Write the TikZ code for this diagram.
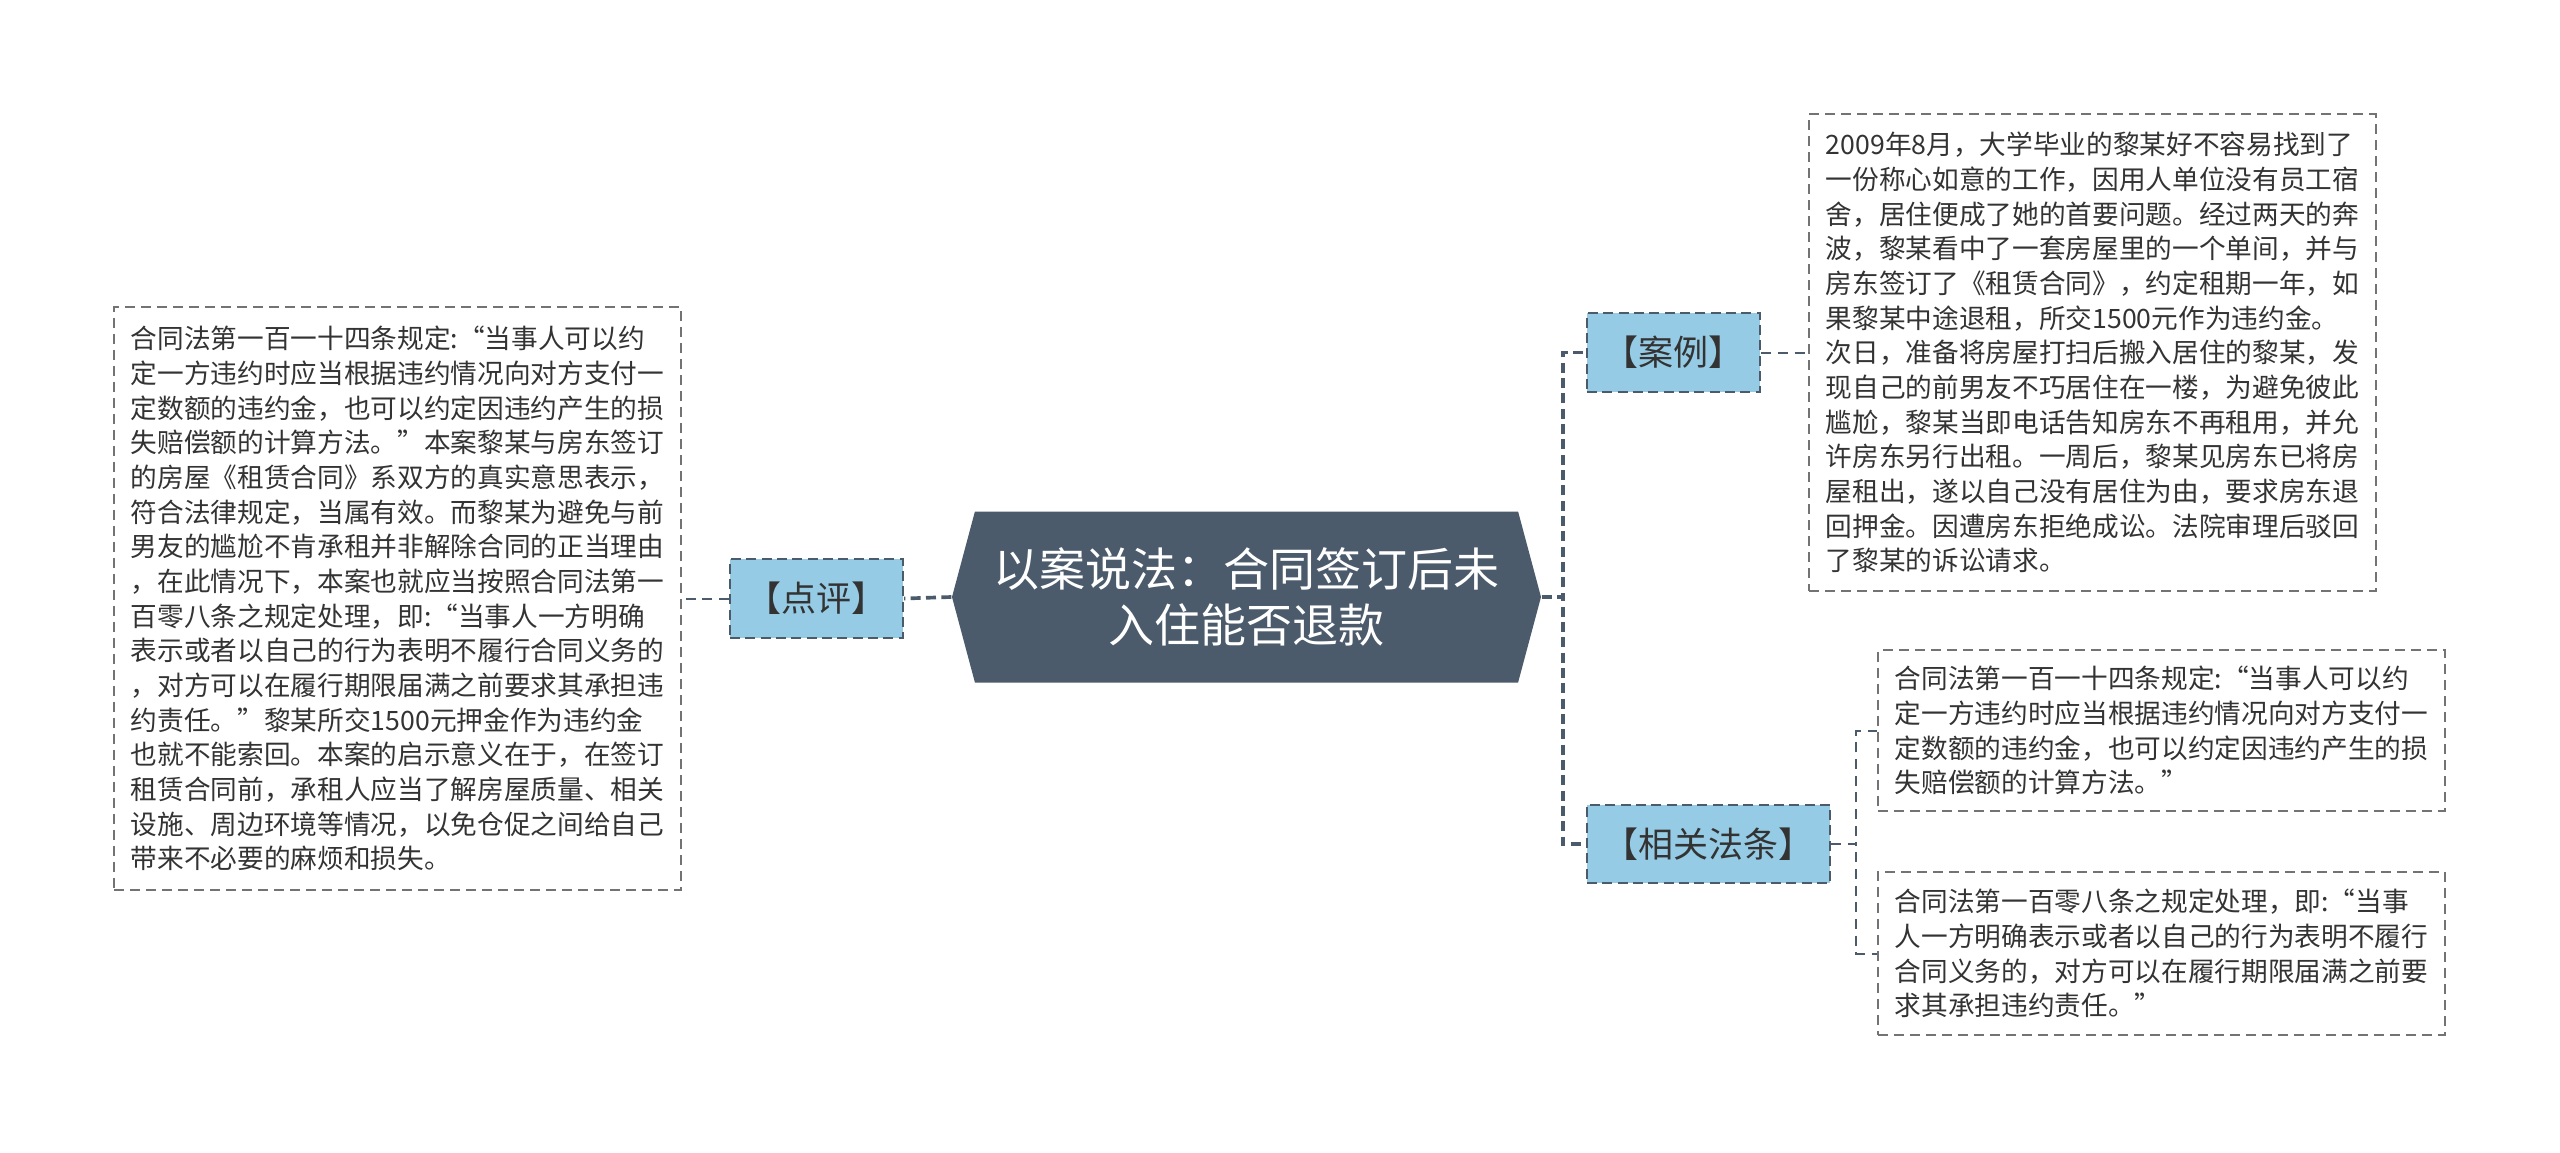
\documentclass[tikz,border=0pt]{standalone}
\usepackage{fontspec}
\setmainfont{Noto Sans CJK SC}
\usetikzlibrary{positioning, shapes.symbols}

\definecolor{slate}{RGB}{75,91,107}
\definecolor{skyfill}{RGB}{149,203,228}
\definecolor{inkgray}{RGB}{51,51,51}

\begin{document}
\begin{tikzpicture}[x=0.3pt, y=-0.3pt,
        topic/.style={signal, signal to=east and west, signal pointer angle=150,
            fill=slate, text=white, font=\fontsize{13.8pt}{17pt}\selectfont,
            align=center, minimum width=176.7pt, minimum height=51.3pt, inner sep=0pt},
        tag/.style={draw=slate, dash pattern=on 3pt off 1.6pt, line width=0.6pt,
            fill=skyfill, text=inkgray, font=\fontsize{10.5pt}{12pt}\selectfont,
            minimum height=23.5pt, inner xsep=5pt},
        note/.style={draw=gray!90!black, dash pattern=on 3pt off 1.8pt, line width=0.5pt,
            text=inkgray, font=\fontsize{8pt}{10.4pt}\selectfont, align=left,
            text width=160pt, inner xsep=5pt, inner ysep=0pt},
        mainline/.style={draw=slate, line width=1.1pt, dash pattern=on 3pt off 1.6pt},
        subline/.style={draw=slate, line width=0.6pt, dash pattern=on 3pt off 2pt}]
    \useasboundingbox (0,0) rectangle (2560,1153);

    \node [topic] (title) at (1246.5,597) {以案说法：合同签订后未\\入住能否退款};
    \node [tag] (review) at (816.5,598.5) {【点评】};
    \node [tag] (case) at (1673.5,352.5) {【案例】};
    \node [tag] (laws) at (1708.5,844) {【相关法条】};

    \node [note, minimum height=175pt] (reviewtxt) at (397.5,598.5) {合同法第一百一十四条规定:“当事人可以约\\
定一方违约时应当根据违约情况向对方支付一\\
定数额的违约金，也可以约定因违约产生的损\\
失赔偿额的计算方法。”本案黎某与房东签订\\
的房屋《租赁合同》系双方的真实意思表示，\\
符合法律规定，当属有效。而黎某为避免与前\\
男友的尴尬不肯承租并非解除合同的正当理由\\
，在此情况下，本案也就应当按照合同法第一\\
百零八条之规定处理，即:“当事人一方明确\\
表示或者以自己的行为表明不履行合同义务的\\
，对方可以在履行期限届满之前要求其承担违\\
约责任。”黎某所交1500元押金作为违约金\\
也就不能索回。本案的启示意义在于，在签订\\
租赁合同前，承租人应当了解房屋质量、相关\\
设施、周边环境等情况，以免仓促之间给自己\\
带来不必要的麻烦和损失。};

    \node [note, minimum height=143pt] (casetxt) at (2092.5,352.5) {2009年8月，大学毕业的黎某好不容易找到了\\
一份称心如意的工作，因用人单位没有员工宿\\
舍，居住便成了她的首要问题。经过两天的奔\\
波，黎某看中了一套房屋里的一个单间，并与\\
房东签订了《租赁合同》，约定租期一年，如\\
果黎某中途退租，所交1500元作为违约金。\\
次日，准备将房屋打扫后搬入居住的黎某，发\\
现自己的前男友不巧居住在一楼，为避免彼此\\
尴尬，黎某当即电话告知房东不再租用，并允\\
许房东另行出租。一周后，黎某见房东已将房\\
屋租出，遂以自己没有居住为由，要求房东退\\
回押金。因遭房东拒绝成讼。法院审理后驳回\\
了黎某的诉讼请求。};

    \node [note, minimum height=48.3pt] (lawa) at (2161.5,730.5) {合同法第一百一十四条规定:“当事人可以约\\
定一方违约时应当根据违约情况向对方支付一\\
定数额的违约金，也可以约定因违约产生的损\\
失赔偿额的计算方法。”};
    \node [note, minimum height=49pt] (lawb) at (2161.5,953.5) {合同法第一百零八条之规定处理，即:“当事\\
人一方明确表示或者以自己的行为表明不履行\\
合同义务的，对方可以在履行期限届满之前要\\
求其承担违约责任。”};

    \draw [mainline] (title.west) -- (review.east);
    \draw [subline] (review.west) -- (reviewtxt.east);
    \draw [mainline] (title.east) -- ++(21,0) |- (case.west);
    \draw [mainline] (title.east) -- ++(21,0) |- (laws.west);
    \draw [subline] (case.east) -- (casetxt.west);
    \draw [subline] (laws.east) -- ++(25,0) |- (lawa.west);
    \draw [subline] (laws.east) -- ++(25,0) |- (lawb.west);
\end{tikzpicture}
\end{document}
